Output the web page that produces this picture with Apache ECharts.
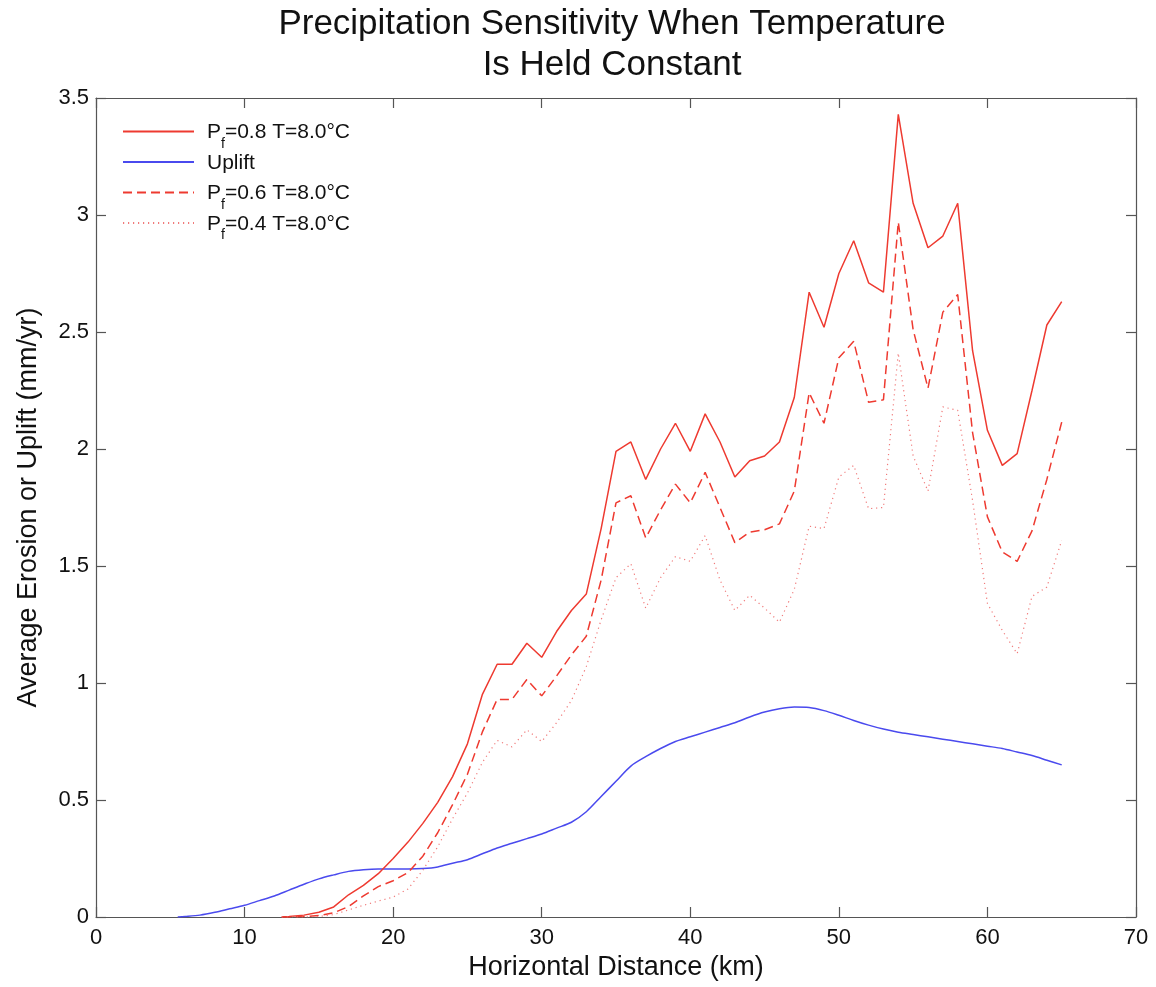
<!DOCTYPE html>
<html>
<head>
<meta charset="utf-8">
<script src="https://cdn.jsdelivr.net/npm/echarts@6/dist/echarts.min.js"></script>
<style>
html,body{margin:0;padding:0;background:#fff;}
#chart{width:1156px;height:987px;}
</style>
</head>
<body>
<div id="chart"></div>
<script>
// ---- Data ----
const titleText = 'Precipitation Sensitivity When Temperature\nIs Held Constant';
const xAxisTitle = 'Horizontal Distance (km)';
const yAxisTitle = 'Average Erosion or Uplift (mm/yr)';
const seriesNames = ['Pf=0.8 T=8.0°C', 'Uplift', 'Pf=0.6 T=8.0°C', 'Pf=0.4 T=8.0°C'];

// distance (km) for the erosion curves
const erosionX = [12.5,13,14,15,16,17,18,19,20,21,22,23,24,25,26,27,28,29,30,31,32,33,34,35,36,37,38,39,40,41,42,43,44,45,46,47,48,49,50,51,52,53,54,55,56,57,58,59,60,61,62,63,64,65];
const erosionP08 = [0,0.002,0.008,0.02,0.043,0.095,0.135,0.185,0.25,0.32,0.40,0.49,0.60,0.74,0.95,1.08,1.08,1.17,1.11,1.22,1.31,1.38,1.66,1.99,2.03,1.87,2.00,2.11,1.99,2.15,2.03,1.88,1.95,1.97,2.03,2.22,2.67,2.52,2.75,2.89,2.71,2.67,3.43,3.05,2.86,2.91,3.05,2.42,2.08,1.93,1.98,2.25,2.53,2.63];
const erosionP06 = [0,0,0.002,0.006,0.018,0.045,0.09,0.13,0.155,0.19,0.26,0.36,0.48,0.61,0.79,0.93,0.93,1.015,0.945,1.03,1.12,1.20,1.44,1.77,1.80,1.62,1.74,1.85,1.77,1.90,1.75,1.60,1.645,1.655,1.68,1.82,2.24,2.11,2.39,2.46,2.20,2.21,2.97,2.51,2.26,2.585,2.66,2.07,1.71,1.56,1.52,1.65,1.87,2.115];
const erosionP04 = [0,0,0,0.002,0.01,0.03,0.05,0.068,0.085,0.12,0.2,0.3,0.42,0.53,0.66,0.755,0.727,0.80,0.75,0.83,0.925,1.07,1.27,1.45,1.51,1.32,1.45,1.54,1.52,1.63,1.44,1.31,1.375,1.32,1.26,1.40,1.67,1.66,1.88,1.93,1.745,1.75,2.41,1.97,1.82,2.18,2.165,1.78,1.34,1.225,1.125,1.37,1.41,1.61];

// uplift curve
const upliftX = [5.5,6,7,8,9,10,11,12,13,14,15,16,17,18,19,20,21,22,23,24,25,26,27,28,29,30,31,32,33,34,35,36,37,38,39,40,41,42,43,44,45,46,47,48,49,50,51,52,53,54,55,56,57,58,59,60,61,62,63,64,65];
const upliftY = [0,0.002,0.008,0.02,0.035,0.05,0.07,0.09,0.115,0.14,0.163,0.18,0.195,0.202,0.205,0.205,0.205,0.207,0.214,0.23,0.245,0.27,0.295,0.315,0.335,0.355,0.38,0.405,0.45,0.515,0.58,0.645,0.685,0.72,0.75,0.77,0.79,0.81,0.83,0.855,0.876,0.89,0.897,0.895,0.882,0.862,0.84,0.82,0.803,0.79,0.78,0.77,0.76,0.75,0.74,0.73,0.72,0.705,0.69,0.67,0.65];

const xTicks = {min: 0, max: 70, interval: 10};
const yTicks = {min: 0, max: 3.5, interval: 0.5};

function pairs(xs, ys) { return xs.map((x, i) => [x, ys[i]]); }

const FONT = '"Liberation Sans", Arial, Helvetica, sans-serif';
const AXIS_COLOR = '#555';
const RED = '#ee3a30';
const RED_DOT = '#f07a7a';
const BLUE = '#4a4aee';

const chart = echarts.init(document.getElementById('chart'), null, {renderer: 'canvas'});

const baseAxis = {
  axisLine: {show: true, onZero: false, lineStyle: {color: AXIS_COLOR, width: 1.2}},
  axisTick: {show: true, inside: true, length: 10, lineStyle: {color: AXIS_COLOR, width: 1.2}},
  splitLine: {show: false},
};

const option = {
  animation: false,
  backgroundColor: '#fff',
  graphic: [{
    type: 'text',
    x: 612,
    y: 4,
    style: {
      text: titleText,
      fontFamily: FONT, fontSize: 35, fill: '#111',
      lineHeight: 41, align: 'center', verticalAlign: 'top'
    }
  }],
  grid: {left: 96, top: 98, right: 20, bottom: 70, containLabel: false},
  legend: {
    orient: 'vertical',
    left: 122,
    top: 112,
    padding: 0,
    itemWidth: 71,
    itemHeight: 14,
    itemGap: -8.5,
    data: seriesNames,
    itemStyle: {opacity: 0},
    formatter: function (name) {
      if (name.indexOf('Pf') === 0) return '{n|P}{s|f}{n|' + name.slice(2) + '}';
      return '{n|' + name + '}';
    },
    textStyle: {
      fontFamily: FONT, fontSize: 21, color: '#111', lineHeight: 29, padding: [10, 0, 0, 8],
      rich: {
        n: {fontFamily: FONT, fontSize: 21, color: '#111', lineHeight: 29, verticalAlign: 'top'},
        s: {fontFamily: FONT, fontSize: 14, color: '#111', lineHeight: 14, verticalAlign: 'top', padding: [15, 0, 0, 0]}
      }
    }
  },
  xAxis: [
    Object.assign({}, baseAxis, {
      type: 'value', position: 'bottom', min: xTicks.min, max: xTicks.max, interval: xTicks.interval,
      name: xAxisTitle, nameLocation: 'middle', nameGap: 37,
      nameTextStyle: {fontFamily: FONT, fontSize: 27, color: '#111'},
      axisLabel: {fontFamily: FONT, fontSize: 22, color: '#111', margin: 10}
    }),
    Object.assign({}, baseAxis, {
      type: 'value', position: 'top', min: xTicks.min, max: xTicks.max, interval: xTicks.interval,
      axisLabel: {show: false}
    })
  ],
  yAxis: [
    Object.assign({}, baseAxis, {
      type: 'value', position: 'left', min: yTicks.min, max: yTicks.max, interval: yTicks.interval,
      name: yAxisTitle, nameLocation: 'middle', nameGap: 54, nameRotate: 90,
      nameTextStyle: {fontFamily: FONT, fontSize: 27, color: '#111'},
      axisLabel: {fontFamily: FONT, fontSize: 22, color: '#111', margin: 7}
    }),
    Object.assign({}, baseAxis, {
      type: 'value', position: 'right', min: yTicks.min, max: yTicks.max, interval: yTicks.interval,
      axisLabel: {show: false}
    })
  ],
  series: [
    {
      name: seriesNames[0], type: 'line', xAxisIndex: 0, yAxisIndex: 0,
      data: pairs(erosionX, erosionP08), showSymbol: false,
      lineStyle: {color: RED, width: 1.5, type: 'solid'}, itemStyle: {color: RED}, z: 4
    },
    {
      name: seriesNames[1], type: 'line', xAxisIndex: 0, yAxisIndex: 0,
      data: pairs(upliftX, upliftY), showSymbol: false, smooth: 0.3,
      lineStyle: {color: BLUE, width: 1.5, type: 'solid'}, itemStyle: {color: BLUE}, z: 3
    },
    {
      name: seriesNames[2], type: 'line', xAxisIndex: 0, yAxisIndex: 0,
      data: pairs(erosionX, erosionP06), showSymbol: false,
      lineStyle: {color: RED, width: 1.5, type: [9, 5]}, itemStyle: {color: RED}, z: 4
    },
    {
      name: seriesNames[3], type: 'line', xAxisIndex: 0, yAxisIndex: 0,
      data: pairs(erosionX, erosionP04), showSymbol: false,
      lineStyle: {color: RED_DOT, width: 1.2, type: [1.2, 3.8]}, itemStyle: {color: RED_DOT}, z: 4
    }
  ]
};
chart.setOption(option);
</script>
</body>
</html>
